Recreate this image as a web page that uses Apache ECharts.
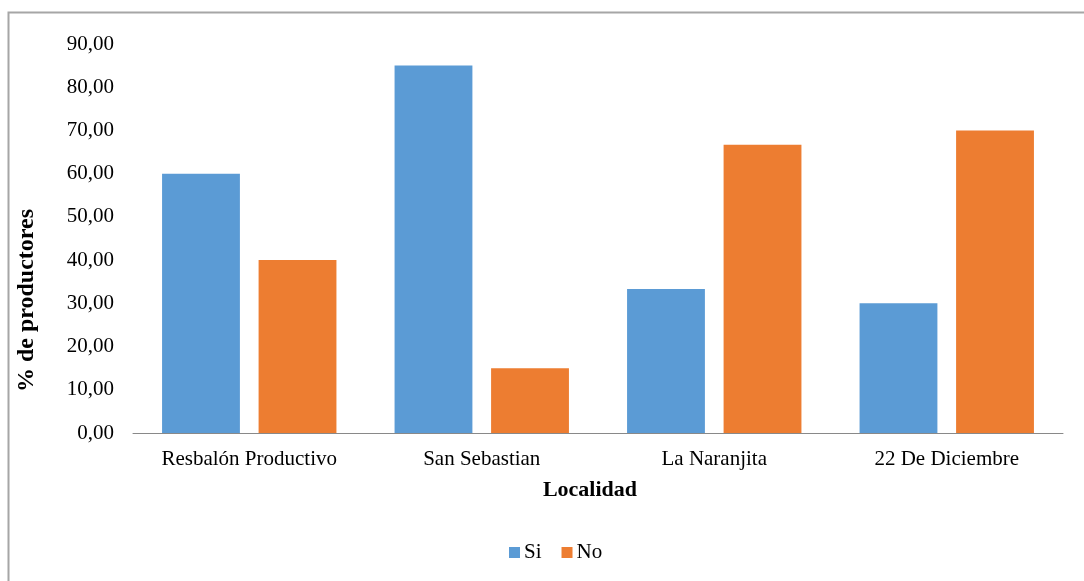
<!DOCTYPE html>
<html>
<head>
<meta charset="utf-8">
<script src="https://cdn.jsdelivr.net/npm/echarts@6/dist/echarts.min.js"></script>
<style>
  html, body { margin: 0; padding: 0; background: #ffffff; }
  #chart { width: 1084px; height: 581px; }
</style>
</head>
<body>
<div id="chart"></div>
<script>
// Localidades y porcentaje de productores por respuesta
const localidades = ['Resbalón Productivo', 'San Sebastian', 'La Naranjita', '22 De Diciembre'];
const valoresSi = [60.00, 85.00, 33.33, 30.00];
const valoresNo = [40.00, 15.00, 66.67, 70.00];
const nombresSeries = ['Si', 'No'];

const FONT = '"Liberation Serif", "Times New Roman", serif';
const coloresSeries = ['#5B9BD5', '#ED7D31'];

const chart = echarts.init(document.getElementById('chart'), null, { renderer: 'canvas' });

chart.setOption({
  animation: false,
  backgroundColor: '#ffffff',
  textStyle: { fontFamily: FONT, color: '#000000' },
  graphic: [{
    type: 'rect',
    left: 6,
    top: 10,
    shape: { width: 1200, height: 700 },
    style: { fill: 'none', stroke: '#a6a6a6', lineWidth: 2 },
    silent: true,
    z: -10
  }],
  legend: {
    data: nombresSeries,
    left: 504,
    top: 537,
    itemWidth: 11,
    itemHeight: 11,
    itemGap: 20,
    icon: 'rect',
    textStyle: { fontFamily: FONT, fontSize: 21, color: '#000000', padding: [0, 0, 0, -1] }
  },
  grid: { left: 133, right: 21, top: 44, bottom: 148, containLabel: false },
  xAxis: {
    type: 'category',
    data: localidades,
    name: 'Localidad',
    nameLocation: 'middle',
    nameGap: 46,
    nameTextStyle: { fontFamily: FONT, fontSize: 22, fontWeight: 'bold', color: '#000000', padding: [0, 16, 0, 0] },
    axisLine: { show: true, lineStyle: { color: '#898989', width: 1 } },
    axisTick: { show: false },
    axisLabel: { fontFamily: FONT, fontSize: 21, color: '#000000', margin: 16 }
  },
  yAxis: {
    type: 'value',
    min: 0,
    max: 90,
    interval: 10,
    name: '% de productores',
    nameLocation: 'middle',
    nameRotate: 90,
    nameGap: 94,
    nameTextStyle: { fontFamily: FONT, fontSize: 24, fontWeight: 'bold', color: '#000000', padding: [0, 124, 0, 0] },
    axisLine: { show: false },
    axisTick: { show: false },
    splitLine: { show: false },
    axisLabel: {
      fontFamily: FONT,
      fontSize: 21,
      color: '#000000',
      margin: 19,
      formatter: v => v.toFixed(2).replace('.', ',')
    }
  },
  series: [
    {
      name: nombresSeries[0],
      type: 'bar',
      data: valoresSi,
      barGap: '24%',
      barCategoryGap: '25%',
      itemStyle: { color: coloresSeries[0] }
    },
    {
      name: nombresSeries[1],
      type: 'bar',
      data: valoresNo,
      barGap: '24%',
      barCategoryGap: '25%',
      itemStyle: { color: coloresSeries[1] }
    }
  ]
});
</script>
</body>
</html>
